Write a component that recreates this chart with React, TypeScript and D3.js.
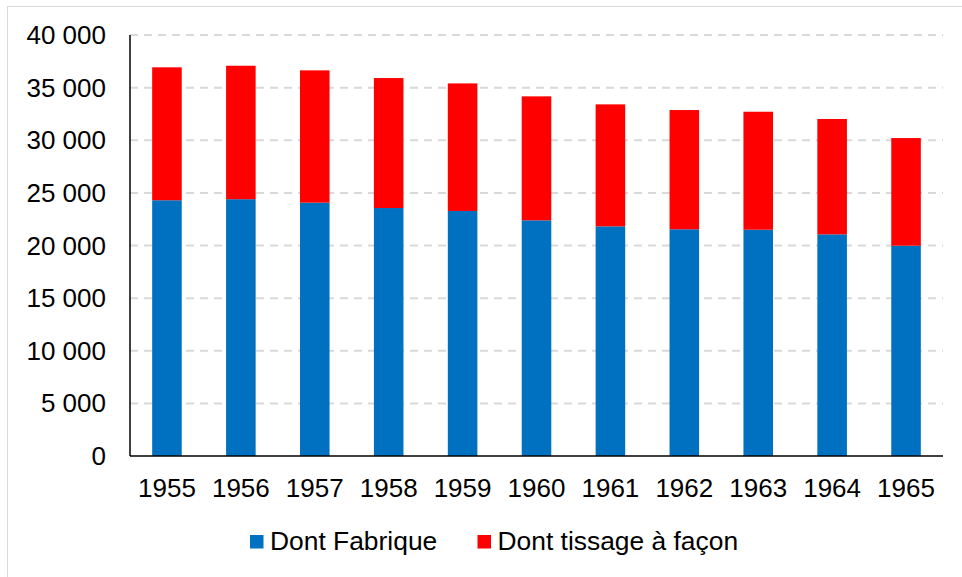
import React, {useRef, useEffect} from 'react'
import * as d3 from 'd3'

const years = ['1955', '1956', '1957', '1958', '1959', '1960', '1961', '1962', '1963', '1964', '1965']
const fabrique = [24300, 24400, 24070, 23560, 23280, 22390, 21820, 21540, 21500, 21060, 19980]
const tissage = [12630, 12680, 12570, 12350, 12120, 11780, 11590, 11330, 11210, 10960, 10230]
const yTicks = [0, 5000, 10000, 15000, 20000, 25000, 30000, 35000, 40000]
const seriesNames = ['Dont Fabrique', 'Dont tissage à façon']
const colors = ['#0070C0', '#FF0000']

const FONT = '"Liberation Sans", Arial, sans-serif'

export default function App() {
  const svgRef = useRef<SVGSVGElement>(null)

  useEffect(() => {
    const svg = d3.select(svgRef.current)
    svg.selectAll('*').remove()

    const left = 130
    const right = 943
    const top = 35
    const bottom = 456

    // outer chart frame (only top and left edges visible)
    svg
      .append('rect')
      .attr('x', 7.5)
      .attr('y', 6.5)
      .attr('width', 980)
      .attr('height', 600)
      .attr('fill', '#fff')
      .attr('stroke', '#d9d9d9')
      .attr('stroke-width', 1)

    const x = d3.scaleBand().domain(years).range([left, right]).paddingInner(0.6).paddingOuter(0.3)
    const y = d3.scaleLinear().domain([0, 40000]).range([bottom, top])

    const fmt = (v: number) => d3.format(',')(v).replace(/,/g, ' ')

    // grid
    svg
      .append('g')
      .selectAll('line')
      .data(yTicks.filter(t => t > 0))
      .join('line')
      .attr('x1', left)
      .attr('x2', right)
      .attr('y1', d => y(d))
      .attr('y2', d => y(d))
      .attr('stroke', '#d9d9d9')
      .attr('stroke-width', 2)
      .attr('stroke-dasharray', '8 6')

    const rows = years.map((yr, i) => ({year: yr, fabrique: fabrique[i], tissage: tissage[i]}))
    const stack = d3.stack<any>().keys(['fabrique', 'tissage'])(rows)

    stack.forEach((layer, li) => {
      svg
        .append('g')
        .selectAll('rect')
        .data(layer)
        .join('rect')
        .attr('x', d => x(d.data.year)!)
        .attr('width', x.bandwidth())
        .attr('y', d => y(d[1]))
        .attr('height', d => y(d[0]) - y(d[1]))
        .attr('fill', colors[li])
    })

    // axes
    svg
      .append('line')
      .attr('x1', left)
      .attr('x2', left)
      .attr('y1', top)
      .attr('y2', bottom)
      .attr('stroke', '#000')
      .attr('stroke-width', 1.5)
    svg
      .append('line')
      .attr('x1', left)
      .attr('x2', right)
      .attr('y1', bottom)
      .attr('y2', bottom)
      .attr('stroke', '#000')
      .attr('stroke-width', 1.5)

    svg
      .append('g')
      .selectAll('text')
      .data(yTicks)
      .join('text')
      .attr('x', 106)
      .attr('y', d => y(d))
      .attr('dy', '0.35em')
      .attr('text-anchor', 'end')
      .attr('font-family', FONT)
      .attr('font-size', 26)
      .attr('fill', '#000')
      .text(d => fmt(d))

    svg
      .append('g')
      .selectAll('text')
      .data(years)
      .join('text')
      .attr('x', d => x(d)! + x.bandwidth() / 2)
      .attr('y', 497)
      .attr('text-anchor', 'middle')
      .attr('font-family', FONT)
      .attr('font-size', 26)
      .attr('fill', '#000')
      .text(d => d)

    // legend
    const legendX = [250, 477.5]
    seriesNames.forEach((name, i) => {
      svg
        .append('rect')
        .attr('x', legendX[i])
        .attr('y', 535)
        .attr('width', 13.5)
        .attr('height', 13.5)
        .attr('fill', colors[i])
      svg
        .append('text')
        .attr('x', legendX[i] + 20)
        .attr('y', 550)
        .attr('font-family', FONT)
        .attr('font-size', 26.4)
        .attr('fill', '#000')
        .text(name)
    })
  }, [])

  return (
    <div style={{position: 'absolute', left: 0, top: 0}}>
      <svg ref={svgRef} width={962} height={577} style={{display: 'block'}} />
    </div>
  )
}
